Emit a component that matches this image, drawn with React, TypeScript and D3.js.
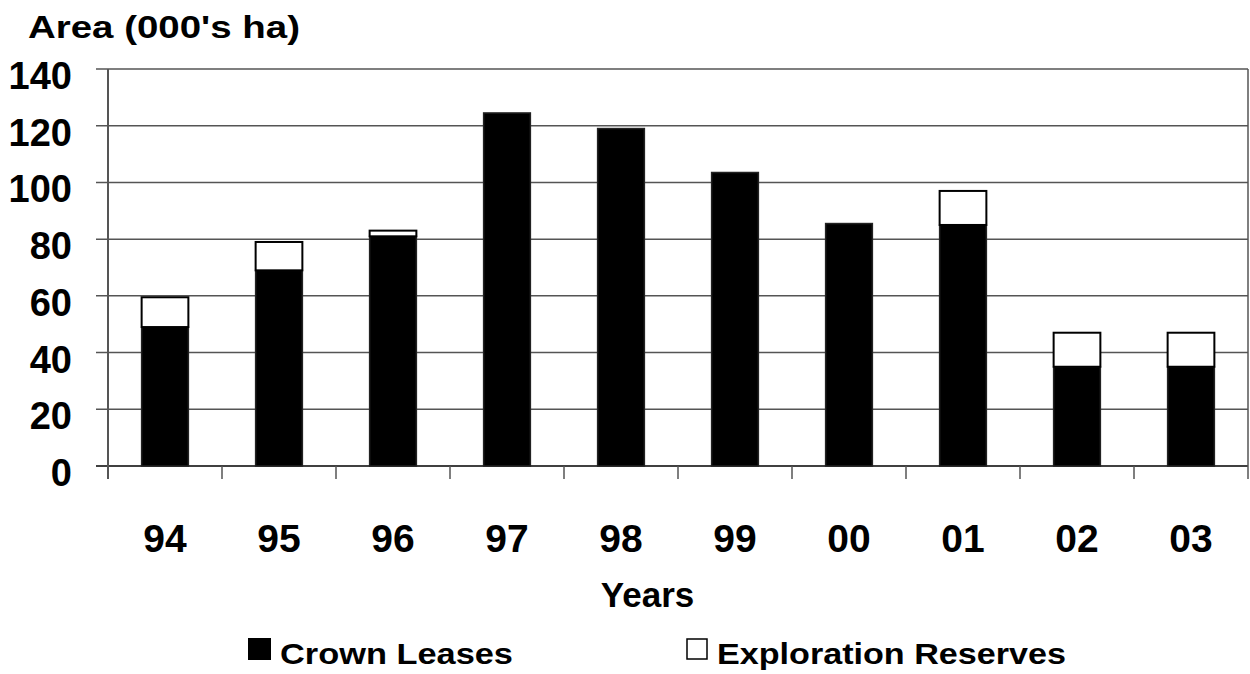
import React from "react";
import * as d3 from "d3";

const years = ["94", "95", "96", "97", "98", "99", "00", "01", "02", "03"];
const crownLeases = [49, 69, 81, 124.5, 119, 103.5, 85.5, 85, 35, 35];
const explorationReserves = [10.5, 10, 2, 0, 0, 0, 0, 12, 12, 12];
const yTicks = [0, 20, 40, 60, 80, 100, 120, 140];
const seriesNames = ["Crown Leases", "Exploration Reserves"];

const W = 1250;
const H = 674;
const left = 108;
const right = 1248;
const top = 69;
const bottom = 466;
const font = "'Liberation Sans', Arial, sans-serif";

export default function App() {
  const x = d3.scaleBand<string>().domain(years).range([left, right]).paddingInner(0.59).paddingOuter(0.295);
  const xb = d3.scaleBand<string>().domain(years).range([left, right]);
  const y = d3.scaleLinear().domain([0, 140]).range([bottom, top]);
  const grid = "#555";
  return (
    <svg width={W} height={H} style={{ position: "absolute", left: 0, top: 0, background: "#fff" }}>
      <text x={28} y={38} fontFamily={font} fontWeight="bold" fontSize={32} textLength={272} lengthAdjust="spacingAndGlyphs">Area (000's ha)</text>
      {yTicks.map((t) => (
        <g key={t}>
          <line x1={96} x2={right} y1={y(t)} y2={y(t)} stroke={t === 0 ? "#000" : grid} strokeWidth={1.5} />
          <text x={72} y={y(t) + 20} textAnchor="end" fontFamily={font} fontWeight="bold" fontSize={38}>{t}</text>
        </g>
      ))}
      <line x1={right} x2={right} y1={top} y2={bottom} stroke={grid} strokeWidth={1.5} />
      <line x1={left} x2={left} y1={top} y2={479} stroke={grid} strokeWidth={2} />
      {years.map((yr) => (
        <line key={"t" + yr} x1={(xb(yr) as number) + xb.bandwidth()} x2={(xb(yr) as number) + xb.bandwidth()} y1={bottom} y2={479} stroke={grid} strokeWidth={1.5} />
      ))}
      {years.map((yr, i) => {
        const bx = x(yr) as number;
        const bw = x.bandwidth();
        const c = crownLeases[i];
        const e = explorationReserves[i];
        return (
          <g key={yr}>
            <rect x={bx} y={y(c)} width={bw} height={y(0) - y(c)} fill="#000" stroke="#222" strokeWidth={1.5} />
            {e > 0 && (
              <rect x={bx} y={y(c + e)} width={bw} height={y(c) - y(c + e)} fill="#fff" stroke="#000" strokeWidth={2} />
            )}
            <text x={bx + bw / 2} y={552} textAnchor="middle" fontFamily={font} fontWeight="bold" fontSize={39}>{yr}</text>
          </g>
        );
      })}
      <text x={647.5} y={607} textAnchor="middle" fontFamily={font} fontWeight="bold" fontSize={35}>Years</text>
      <rect x={248} y={638} width={23} height={22} fill="#000" />
      <text x={280} y={664} fontFamily={font} fontWeight="bold" fontSize={30} textLength={233} lengthAdjust="spacingAndGlyphs">{seriesNames[0]}</text>
      <rect x={687} y={639} width={20} height={20} fill="#fff" stroke="#000" strokeWidth={1.5} />
      <text x={717} y={664} fontFamily={font} fontWeight="bold" fontSize={30} textLength={349} lengthAdjust="spacingAndGlyphs">{seriesNames[1]}</text>
    </svg>
  );
}
